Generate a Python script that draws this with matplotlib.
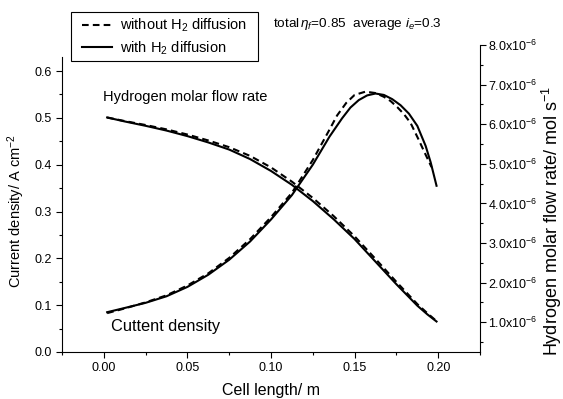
import numpy as np
import matplotlib
matplotlib.use("Agg")
import matplotlib.pyplot as plt
from matplotlib.lines import Line2D
from matplotlib.patches import Rectangle
from matplotlib.ticker import MultipleLocator, FuncFormatter

plt.rcParams['font.family'] = ['Liberation Sans', 'DejaVu Sans']
plt.rcParams['mathtext.fontset'] = 'custom'
plt.rcParams['mathtext.rm'] = 'Liberation Sans'
plt.rcParams['mathtext.it'] = 'Liberation Sans:italic'

# Current density (A cm-2), left axis
x_cd_with = [0.002, 0.0125, 0.025, 0.0375, 0.05, 0.0625, 0.075, 0.0875, 0.1, 0.1125,
             0.125, 0.135, 0.1425, 0.1475, 0.1525, 0.1575, 0.1625, 0.1675, 0.1725,
             0.1775, 0.1825, 0.1875, 0.1925, 0.1955, 0.199]
cd_with = [0.085, 0.094, 0.105, 0.119, 0.139, 0.165, 0.197, 0.236, 0.283, 0.335,
           0.400, 0.460, 0.499, 0.522, 0.538, 0.548, 0.552, 0.549, 0.540,
           0.527, 0.509, 0.483, 0.44, 0.405, 0.355]

x_cd_without = [0.002, 0.0125, 0.025, 0.0375, 0.05, 0.0625, 0.075, 0.0875, 0.1, 0.1125,
                0.125, 0.135, 0.1395, 0.145, 0.15, 0.1565, 0.1625, 0.1675, 0.1715,
                0.1755, 0.1795, 0.1835, 0.1885, 0.192, 0.196]
cd_without = [0.083, 0.093, 0.106, 0.121, 0.142, 0.168, 0.201, 0.241, 0.288, 0.340,
              0.410, 0.475, 0.505, 0.532, 0.549, 0.556, 0.553, 0.545, 0.536,
              0.523, 0.508, 0.489, 0.452, 0.425, 0.395]

# Hydrogen molar flow rate (x1e-6 mol s-1), right axis
x_h2 = [0.002, 0.0125, 0.025, 0.0375, 0.05, 0.0625, 0.075, 0.0875, 0.1, 0.1125,
        0.125, 0.1375, 0.15, 0.1625, 0.175, 0.1875, 0.1935, 0.199]
h2_with = [6.17, 6.07, 5.96, 5.84, 5.70, 5.54, 5.36, 5.12, 4.82, 4.47,
           4.06, 3.60, 3.10, 2.53, 1.96, 1.42, 1.20, 1.02]
h2_without = [6.17, 6.08, 5.98, 5.87, 5.74, 5.59, 5.42, 5.20, 4.91, 4.55,
              4.14, 3.68, 3.17, 2.60, 2.02, 1.46, 1.23, 1.03]

W, H = 563, 399
fig = plt.figure(figsize=(W / 100, H / 100), dpi=100)

left, right, bottom = 62, 480, 352
ax1 = fig.add_axes([left / W, 1 - bottom / H, (right - left) / W, (bottom - 57) / H])
ax2 = fig.add_axes([left / W, 1 - bottom / H, (right - left) / W, (bottom - 45) / H])
ax2.patch.set_visible(False)

lw = 1.5
dash = (0, (3.2, 2))
ax1.plot(x_cd_without, cd_without, color='black', lw=lw, ls=dash)
ax1.plot(x_cd_with, cd_with, color='black', lw=lw)
ax2.plot(x_h2, h2_without, color='black', lw=lw, ls=dash)
ax2.plot(x_h2, h2_with, color='black', lw=lw)

ax1.set_xlim(-0.025, 0.225)
ax2.set_xlim(-0.025, 0.225)
ax1.set_ylim(0, 0.63)
ax2.set_ylim(0.25, 8.0)

# axes styling (Origin look)
for ax in (ax1, ax2):
    for s in ax.spines.values():
        s.set_linewidth(0.8)
ax1.spines['top'].set_visible(False)
ax1.spines['right'].set_visible(False)
for s in ('top', 'left', 'bottom'):
    ax2.spines[s].set_visible(False)
ax2.xaxis.set_visible(False)
ax2.yaxis.tick_right()

ax1.xaxis.set_major_locator(MultipleLocator(0.05))
ax1.xaxis.set_minor_locator(MultipleLocator(0.025))
ax1.yaxis.set_major_locator(MultipleLocator(0.1))
ax1.yaxis.set_minor_locator(MultipleLocator(0.05))
ax1.xaxis.set_major_formatter(FuncFormatter(lambda v, p: f'{v:.2f}'))
ax1.yaxis.set_major_formatter(FuncFormatter(lambda v, p: f'{v:.1f}'))
ax2.yaxis.set_major_locator(MultipleLocator(1.0))
ax2.yaxis.set_minor_locator(MultipleLocator(0.5))
ax2.yaxis.set_major_formatter(FuncFormatter(lambda v, p: f'{v:.1f}x10$^{{-6}}$'))

ax1.tick_params(which='both', direction='out', width=0.8, labelsize=9)
ax1.tick_params(which='major', length=4)
ax1.tick_params(which='minor', length=2.2)
ax2.tick_params(which='both', direction='out', width=0.8, labelsize=9)
ax2.tick_params(which='major', length=4, pad=2)
ax2.tick_params(which='minor', length=2.2)

ax1.set_ylabel('Current density/ A cm$^{-2}$', fontsize=10.5)
ax1.yaxis.set_label_coords(-0.084, 0.478)
ax1.set_xlabel('Cell length/ m', fontsize=11.5)
ax1.xaxis.set_label_coords(0.5, -0.105)
fig.text(552 / W, 1 - 86 / H, 'Hydrogen molar flow rate/ mol s$^{-1}$', rotation=90,
         ha='center', va='top', fontsize=13)

ax1.text(41 / 418, (352 - 97) / 295, 'Hydrogen molar flow rate', transform=ax1.transAxes,
         ha='left', va='center', fontsize=10.5)
ax1.text(49 / 418, (352 - 326) / 295, 'Cuttent density', transform=ax1.transAxes,
         ha='left', va='center', fontsize=11.8)
fig.text(273 / W, 1 - 24 / H, r'total$\,\eta_f$=0.85  average $i_e$=0.3',
         ha='left', va='center', fontsize=9.7)

# legend: frame drawn by hand to match the box
fig.patches.append(Rectangle((71 / W, 1 - 61 / H), (258 - 71) / W, 49 / H,
                             transform=fig.transFigure, fill=False, ec='black', lw=0.8))
handles = [Line2D([], [], color='black', lw=lw, ls=dash),
           Line2D([], [], color='black', lw=lw)]
labels = ['without H$_2$ diffusion', 'with H$_2$ diffusion']
fig.legend(handles, labels, loc='upper left', bbox_to_anchor=(76 / W, 1 - 11 / H),
           borderaxespad=0, frameon=False, fontsize=10.5, handlelength=2.1,
           handletextpad=0.5, labelspacing=0.35)

fig.savefig('out.png', dpi=100)
